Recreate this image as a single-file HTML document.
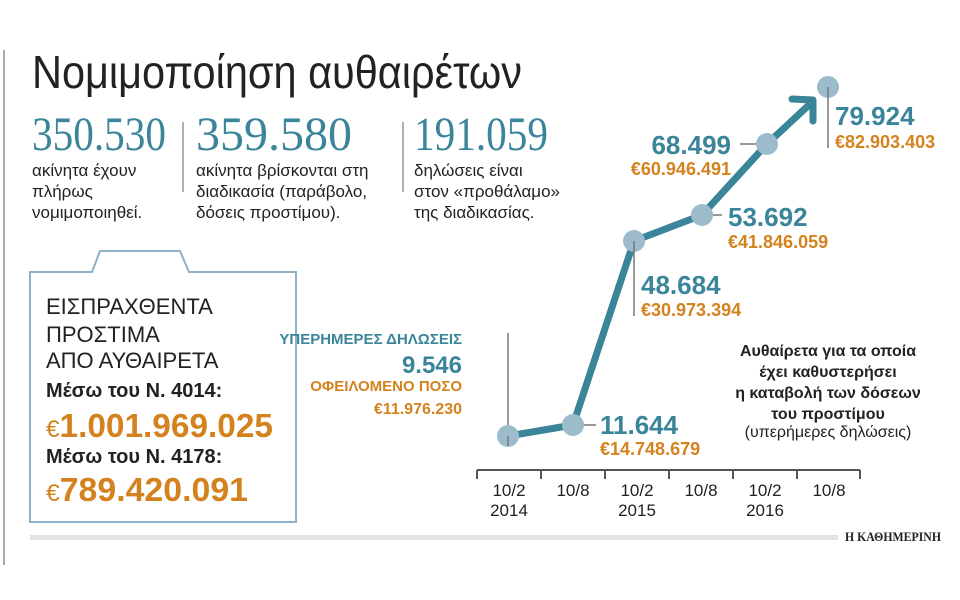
<!DOCTYPE html>
<html><head><meta charset="utf-8"><style>
body{margin:0;background:#fff}
svg{display:block}
text{font-family:"Liberation Sans Narrow","Liberation Sans",sans-serif}
.t{fill:#3a8599;font-weight:bold}
.o{fill:#d4821e;font-weight:bold}
.k{fill:#222}
</style></head><body>
<svg width="960" height="600" viewBox="0 0 960 600" xmlns="http://www.w3.org/2000/svg">
<line x1="4" y1="50" x2="4" y2="565" stroke="#aaa" stroke-width="2"/>
<text x="32" y="88" font-size="46" class="k" textLength="490" lengthAdjust="spacingAndGlyphs">Νομιμοποίηση αυθαιρέτων</text>

<g font-family="Liberation Serif" fill="#3a8599">
<text x="32" y="150" font-size="48" style="font-family:'Liberation Serif',serif" textLength="134" lengthAdjust="spacingAndGlyphs">350.530</text>
<text x="196" y="150" font-size="48" style="font-family:'Liberation Serif',serif" textLength="156" lengthAdjust="spacingAndGlyphs">359.580</text>
<text x="414" y="150" font-size="48" style="font-family:'Liberation Serif',serif" textLength="134" lengthAdjust="spacingAndGlyphs">191.059</text>
</g>
<line x1="183" y1="122" x2="183" y2="192" stroke="#666" stroke-width="1"/>
<line x1="403" y1="122" x2="403" y2="192" stroke="#666" stroke-width="1"/>
<g font-size="17" class="k">
<text x="32" y="176">ακίνητα έχουν</text><text x="32" y="197">πλήρως</text><text x="32" y="218">νομιμοποιηθεί.</text>
<text x="196" y="176">ακίνητα βρίσκονται στη</text><text x="196" y="197">διαδικασία (παράβολο,</text><text x="196" y="218">δόσεις προστίμου).</text>
<text x="414" y="176">δηλώσεις είναι</text><text x="414" y="197">στον «προθάλαμο»</text><text x="414" y="218">της διαδικασίας.</text>
</g>

<path d="M30,272 H92 L100,251 H180 L189,272 H296 V522 H30 Z" fill="none" stroke="#8fb0c6" stroke-width="2"/>
<g class="k" font-size="22">
<text x="46" y="314">ΕΙΣΠΡΑΧΘΕΝΤΑ</text><text x="46" y="342">ΠΡΟΣΤΙΜΑ</text><text x="46" y="368">ΑΠΟ ΑΥΘΑΙΡΕΤΑ</text>
</g>
<text x="46" y="397" font-size="20" font-weight="bold" class="k">Μέσω του Ν. 4014:</text>
<text x="46" y="437" font-size="33" class="o" textLength="227" lengthAdjust="spacingAndGlyphs"><tspan font-weight="normal" font-size="24">€</tspan>1.001.969.025</text>
<text x="46" y="463" font-size="20" font-weight="bold" class="k">Μέσω του Ν. 4178:</text>
<text x="46" y="501" font-size="33" class="o" textLength="202" lengthAdjust="spacingAndGlyphs"><tspan font-weight="normal" font-size="24">€</tspan>789.420.091</text>

<g stroke="#777" stroke-width="1.5">
<line x1="508" y1="333" x2="508" y2="436"/>
<line x1="578" y1="425" x2="596" y2="425"/>
<line x1="634" y1="241" x2="634" y2="316"/>
<line x1="702" y1="215" x2="722" y2="215"/>
<line x1="740" y1="144" x2="767" y2="144"/>
<line x1="828" y1="87" x2="828" y2="148"/>
</g>
<polyline points="508,436 573,425 634,241 702,215 767,144 810,104" fill="none" stroke="#3a8599" stroke-width="7" stroke-linejoin="round"/>
<polyline points="792,99 813,100 813,121" fill="none" stroke="#3a8599" stroke-width="7" stroke-linecap="round" stroke-linejoin="round"/>
<g fill="#9dbccb">
<circle cx="508" cy="436" r="11"/><circle cx="573" cy="425" r="11"/><circle cx="634" cy="241" r="11"/>
<circle cx="702" cy="215" r="11"/><circle cx="767" cy="144" r="11"/><circle cx="828" cy="87" r="11"/>
</g>
<g stroke="#777" stroke-width="1.5">
<line x1="508" y1="436" x2="508" y2="446"/><line x1="634" y1="241" x2="634" y2="252"/><line x1="828" y1="87" x2="828" y2="98"/>
</g>

<g text-anchor="end">
<text x="462" y="344" font-size="15" class="t">ΥΠΕΡΗΜΕΡΕΣ ΔΗΛΩΣΕΙΣ</text>
<text x="462" y="373" font-size="24" class="t">9.546</text>
<text x="462" y="391" font-size="15" class="o">ΟΦΕΙΛΟΜΕΝΟ ΠΟΣΟ</text>
<text x="462" y="414" font-size="16" class="o">€11.976.230</text>
<text x="731" y="154" font-size="26" class="t">68.499</text>
<text x="731" y="175" font-size="18" class="o">€60.946.491</text>
</g>
<text x="600" y="434" font-size="26" class="t">11.644</text>
<text x="600" y="455" font-size="18" class="o">€14.748.679</text>
<text x="641" y="294" font-size="26" class="t">48.684</text>
<text x="641" y="316" font-size="18" class="o">€30.973.394</text>
<text x="728" y="226" font-size="26" class="t">53.692</text>
<text x="728" y="248" font-size="18" class="o">€41.846.059</text>
<text x="835" y="125" font-size="26" class="t">79.924</text>
<text x="835" y="148" font-size="18" class="o">€82.903.403</text>

<g text-anchor="middle" class="k" font-size="16">
<text x="828" y="356" font-weight="bold">Αυθαίρετα για τα οποία</text>
<text x="828" y="377" font-weight="bold">έχει καθυστερήσει</text>
<text x="828" y="398" font-weight="bold">η καταβολή των δόσεων</text>
<text x="828" y="419" font-weight="bold">του προστίμου</text>
<text x="828" y="437">(υπερήμερες δηλώσεις)</text>
</g>

<g stroke="#555" stroke-width="2" fill="none">
<line x1="477" y1="470" x2="860" y2="470"/>
<line x1="477" y1="470" x2="477" y2="479"/><line x1="541" y1="470" x2="541" y2="479"/>
<line x1="605" y1="470" x2="605" y2="479"/><line x1="669" y1="470" x2="669" y2="479"/>
<line x1="733" y1="470" x2="733" y2="479"/><line x1="797" y1="470" x2="797" y2="479"/>
<line x1="860" y1="470" x2="860" y2="479"/>
</g>
<g text-anchor="middle" class="k" font-size="17">
<text x="509" y="496">10/2</text><text x="509" y="516">2014</text>
<text x="573" y="496">10/8</text>
<text x="637" y="496">10/2</text><text x="637" y="516">2015</text>
<text x="701" y="496">10/8</text>
<text x="765" y="496">10/2</text><text x="765" y="516">2016</text>
<text x="829" y="496">10/8</text>
</g>

<rect x="30" y="535" width="808" height="5" fill="#e3e3e3"/>
<text x="845" y="541" font-size="13" font-weight="bold" class="k" style="font-family:'Liberation Serif',serif" textLength="96" lengthAdjust="spacingAndGlyphs">Η ΚΑΘΗΜΕΡΙΝΗ</text>
</svg>
</body></html>
